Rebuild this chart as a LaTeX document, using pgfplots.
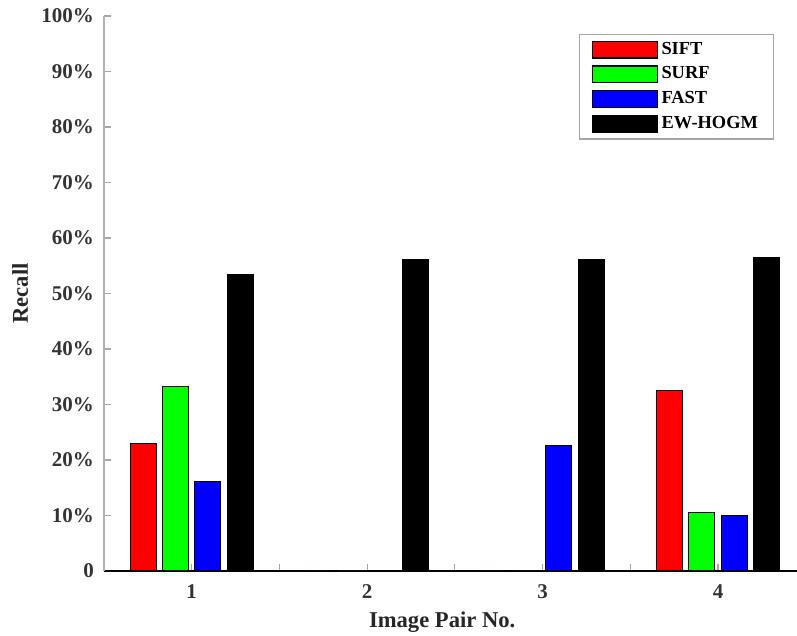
\documentclass[border=0pt]{standalone}
\usepackage{pgfplots}
\pgfplotsset{compat=1.18}
\usepackage{fontspec}
\setmainfont{Liberation Serif}
\definecolor{cR}{RGB}{255,0,0}
\definecolor{cG}{RGB}{0,255,0}
\definecolor{cB}{RGB}{0,0,255}
\begin{document}
\begin{tikzpicture}
\begin{axis}[
  scale only axis,
  width=346.5pt, height=277.5pt,
  xmin=0.5, xmax=4.45,
  ymin=0, ymax=100,
  axis x line=bottom, axis y line=left,
  axis line style={-},
  y axis line style={gray!60, line width=0.8pt},
  x axis line style={black, line width=0.8pt},
  ybar=3.2pt, bar width=13pt,
  xtick={1,2,3,4},
  xticklabels={\textbf{1},\textbf{2},\textbf{3},\textbf{4}},
  minor xtick={0.5,1.5,2.5,3.5},
  ytick={0,10,...,100},
  yticklabels={\textbf{0},\textbf{10\%},\textbf{20\%},\textbf{30\%},\textbf{40\%},\textbf{50\%},\textbf{60\%},\textbf{70\%},\textbf{80\%},\textbf{90\%},\textbf{100\%}},
  tick align=inside,
  major tick length=3.5pt, minor tick length=3.5pt,
  tick style={gray!70, line width=0.6pt},
  tick label style={font=\fontsize{10.5}{12}\selectfont\bfseries, text=black!80},
  xticklabel style={yshift=-3.5pt},
  yticklabel style={xshift=-1.5pt},
  xlabel={\textbf{Image Pair No.}},
  ylabel={\textbf{Recall}},
  label style={font=\fontsize{11.3}{13}\selectfont\bfseries, text=black!85},
  xlabel style={at={(axis description cs:0.488,0)}, anchor=center, yshift=-25.5pt},
  ylabel style={at={(axis description cs:-0.121,0.5)}, anchor=center},
  legend style={at={(axis description cs:0.967,0.968)}, anchor=north east,
    draw=gray!70, line width=0.6pt, font=\fontsize{9.2}{10}\selectfont\bfseries,
    nodes={inner sep=1.8pt},
    row sep=1.2pt, inner xsep=6pt, inner ysep=2pt, cells={anchor=west}},
  legend image code/.code={\draw[#1,draw=black,line width=0.6pt] (0pt,-4.2pt) rectangle (32.5pt,4.2pt);},
  legend cell align=left,
  clip=false,
]
\coordinate (O) at (rel axis cs:0,0);
\addplot[fill=cR, draw=black, line width=0.5pt] coordinates {(1,22.9) (2,0) (3,0) (4,32.5)};
\addplot[fill=cG, draw=black, line width=0.5pt] coordinates {(1,33.3) (2,0) (3,0) (4,10.6)};
\addplot[fill=cB, draw=black, line width=0.5pt] coordinates {(1,16.2) (2,0) (3,22.7) (4,10.0)};
\addplot[fill=black, draw=black, line width=0.5pt] coordinates {(1,53.5) (2,56.1) (3,56.1) (4,56.5)};
\legend{SIFT,SURF,FAST,EW-HOGM}
\end{axis}
\pgfresetboundingbox
\path ([xshift=-52pt,yshift=-32.5pt]O) rectangle ([xshift=346.5pt,yshift=285.5pt]O);
\end{tikzpicture}
\end{document}
